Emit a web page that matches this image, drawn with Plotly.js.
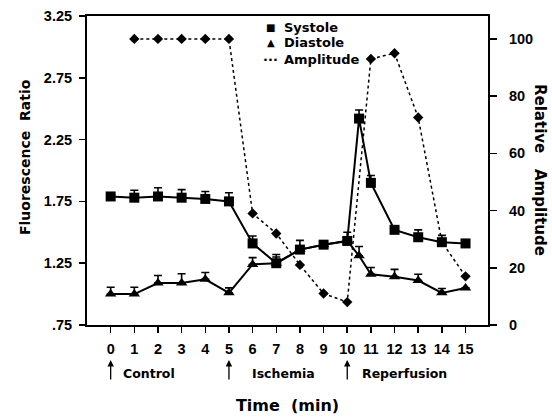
<!DOCTYPE html>
<html>
<head>
<meta charset="utf-8">
<script src="https://cdn.plot.ly/plotly-3.0.1.min.js"></script>
<style>html,body{margin:0;padding:0;background:#fff;}#chart{width:552px;height:417px;}</style>
</head>
<body>
<div id="chart"></div>
<script>
// ---- data ----
const systoleTime = [0, 1, 2, 3, 4, 5, 6, 7, 8, 9, 10, 10.5, 11, 12, 13, 14, 15];
const systole     = [1.79, 1.78, 1.79, 1.78, 1.77, 1.75, 1.41, 1.25, 1.36, 1.40, 1.43, 2.42, 1.90, 1.52, 1.46, 1.42, 1.41];
const systoleErr  = [0.03, 0.06, 0.07, 0.065, 0.06, 0.07, 0.06, 0.07, 0.075, 0.03, 0.07, 0.07, 0.06, 0.03, 0.06, 0.055, 0.0];

const diastoleTime = [0, 1, 2, 3, 4, 5, 6, 7, 8, 9, 10, 10.5, 11, 12, 13, 14, 15];
const diastole     = [1.00, 1.00, 1.09, 1.09, 1.12, 1.01, 1.24, 1.25, 1.36, 1.40, 1.43, 1.31, 1.16, 1.14, 1.11, 1.01, 1.05];
const diastoleErr  = [0.055, 0.055, 0.06, 0.075, 0.055, 0.04, 0.055, 0.05, 0, 0, 0, 0.075, 0.055, 0.06, 0.05, 0.035, 0];

const amplitudeTime = [1, 2, 3, 4, 5, 6, 7, 8, 9, 10, 11, 12, 13, 14, 15];
const amplitude     = [100, 100, 100, 100, 100, 39, 32, 21, 11, 8, 93, 95, 72.5, 29, 17];

const xTicks = [0, 1, 2, 3, 4, 5, 6, 7, 8, 9, 10, 11, 12, 13, 14, 15];
const leftTickVals = [0.75, 1.25, 1.75, 2.25, 2.75, 3.25];
const leftTickText = ['.75', '1.25', '1.75', '2.25', '2.75', '3.25'];
const rightTickVals = [0, 20, 40, 60, 80, 100];

const eventTimes  = [0, 5, 10];
const eventLabels = ['Control', 'Ischemia', 'Reperfusion'];
const seriesNames = ['Systole', 'Diastole', 'Amplitude'];
const legendSymbols = ['\u25A0', '\u25B2', '\u00B7\u00B7\u00B7'];

// ---- styling ----
const TXT  = {family: 'DejaVu Sans, sans-serif', size: 12.5, color: '#000', weight: 'bold'};
const TICK = {family: 'Liberation Sans, Arial, sans-serif', size: 14.5, color: '#000', weight: 'bold'};
const zeros = a => a.map(() => 0);
const f = (base, extra) => Object.assign({}, base, extra);

// plot area in pixels (used only to place text in paper coordinates)
const PL = 87, PW = 401, PT = 16, PH = 309;
const px = v => (v - PL) / PW;
const py = v => (PT + PH - v) / PH;

const traces = [
  {
    name: seriesNames[2], x: amplitudeTime, y: amplitude, xaxis: 'x', yaxis: 'y',
    mode: 'lines+markers',
    line: {color: '#000', width: 1.5, dash: 'dot'},
    marker: {symbol: 'diamond', size: 8, color: '#000'}
  },
  {
    name: seriesNames[0], x: systoleTime, y: systole, xaxis: 'x', yaxis: 'y2',
    mode: 'lines+markers',
    line: {color: '#000', width: 2},
    marker: {symbol: 'square', size: 10, color: '#000'},
    error_y: {type: 'data', symmetric: false, array: systoleErr, arrayminus: zeros(systoleErr),
              color: '#000', thickness: 1.6, width: 4}
  },
  {
    name: seriesNames[1], x: diastoleTime, y: diastole, xaxis: 'x', yaxis: 'y2',
    mode: 'lines+markers',
    line: {color: '#000', width: 2},
    marker: {symbol: 'triangle-up', size: 10, color: '#000'},
    error_y: {type: 'data', symmetric: false, array: diastoleErr, arrayminus: zeros(diastoleErr),
              color: '#000', thickness: 1.6, width: 4}
  }
];

const annotations = [];
const labelShift = [10, 21, 13];
eventTimes.forEach((t, i) => {
  annotations.push({
    x: t, xref: 'x', y: py(360), yref: 'paper', text: '', showarrow: true,
    ax: 0, ay: 21, arrowhead: 2, arrowsize: 1, arrowwidth: 1.3, arrowcolor: '#000', standoff: 0
  });
  annotations.push({
    x: t, xref: 'x', xshift: labelShift[i], y: py(373), yref: 'paper', text: eventLabels[i],
    showarrow: false, xanchor: 'left', yanchor: 'middle', font: TXT
  });
});

// legend (drawn as text, as in the reference)
const legendRowY = [27, 43, 60];
const legendSymSize = [10, 10, 13];
seriesNames.forEach((n, i) => {
  annotations.push({
    x: px(270.5), xref: 'paper', y: py(legendRowY[i]), yref: 'paper', text: legendSymbols[i],
    showarrow: false, xanchor: 'center', yanchor: 'middle',
    font: f(TXT, {size: legendSymSize[i]})
  });
  annotations.push({
    x: px(282), xref: 'paper', y: py(legendRowY[i]), yref: 'paper', text: n,
    showarrow: false, xanchor: 'left', yanchor: 'middle', font: f(TXT, {size: 13})
  });
});

// axis titles for the two value axes
annotations.push({
  x: px(25), xref: 'paper', y: py(157), yref: 'paper', text: 'Fluorescence\u00a0 Ratio',
  textangle: -90, showarrow: false, xanchor: 'center', yanchor: 'middle', font: f(TXT, {size: 14})
});
annotations.push({
  x: px(540), xref: 'paper', y: py(170), yref: 'paper', text: 'Relative\u00a0\u00a0 Amplitude',
  textangle: 90, showarrow: false, xanchor: 'center', yanchor: 'middle', font: f(TXT, {size: 15})
});

const layout = {
  width: 552, height: 417,
  margin: {l: PL, r: 552 - PL - PW, t: PT, b: 417 - PT - PH, pad: 0},
  paper_bgcolor: '#fff', plot_bgcolor: '#fff',
  showlegend: false,
  xaxis: {
    range: [-1, 15.95], tickvals: xTicks, ticks: 'outside', ticklen: 6, tickwidth: 1.5,
    tickcolor: '#000', showline: true, linewidth: 2, linecolor: '#000', mirror: true,
    showgrid: false, zeroline: false, tickfont: TICK, ticklabelstandoff: 4,
    title: {text: 'Time\u00a0 (min)', font: f(TXT, {size: 16}), standoff: 43}
  },
  yaxis: {
    side: 'right', range: [0, 108], tickvals: rightTickVals, ticks: 'outside', ticklen: 7,
    tickwidth: 1.5, tickcolor: '#000', showline: true, linewidth: 2, linecolor: '#000',
    showgrid: false, zeroline: false, tickfont: TICK, ticklabelstandoff: 9
  },
  yaxis2: {
    overlaying: 'y', side: 'left', anchor: 'x', range: [0.75, 3.25],
    tickvals: leftTickVals, ticktext: leftTickText, ticks: 'outside', ticklen: 6,
    tickwidth: 1.5, tickcolor: '#000', showline: true, linewidth: 2, linecolor: '#000',
    showgrid: false, zeroline: false, tickfont: TICK, ticklabelstandoff: 4
  },
  annotations: annotations
};

Plotly.newPlot('chart', traces, layout, {displayModeBar: false, staticPlot: true});
</script>
</body>
</html>
